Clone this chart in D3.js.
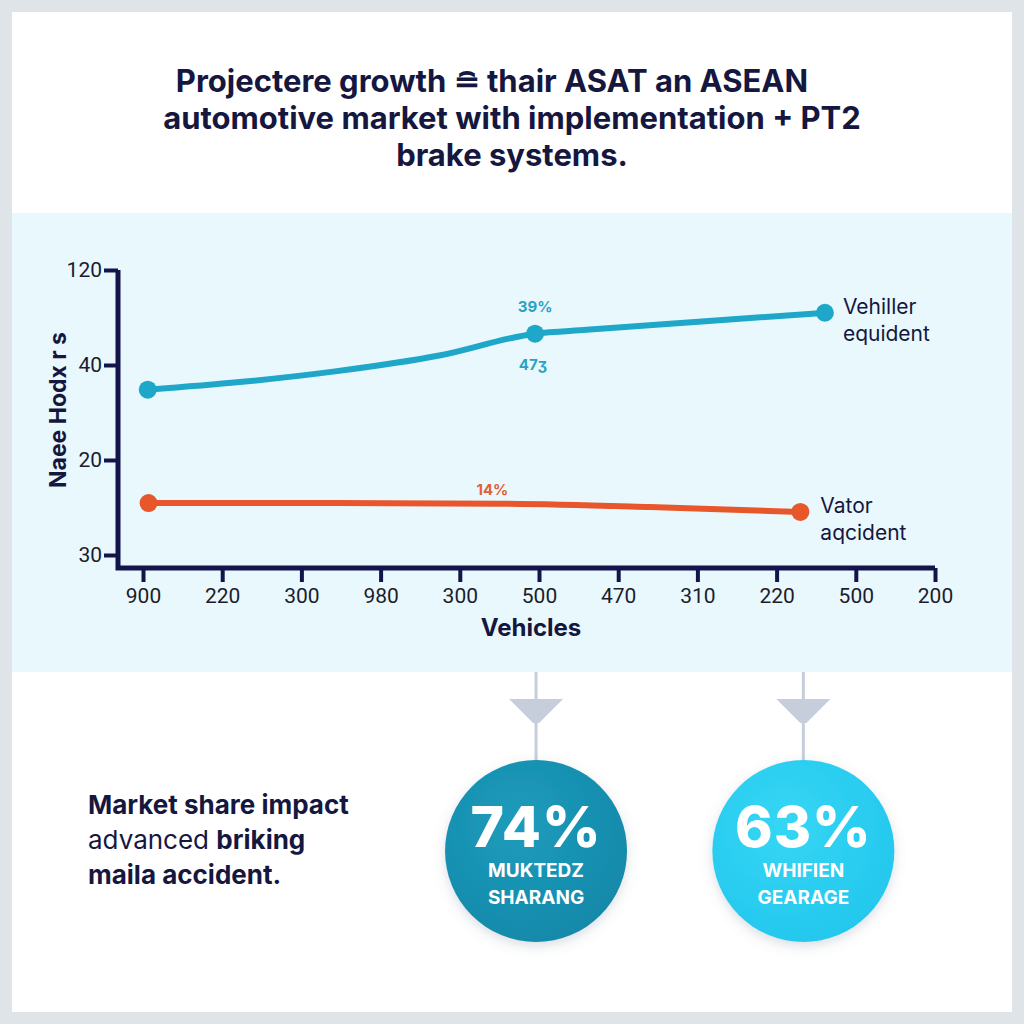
<!DOCTYPE html>
<html>
<head>
<meta charset="utf-8">
<title>ASEAN automotive market</title>
<script src="https://d3js.org/d3.v7.min.js"></script>
<style>
	body { margin: 0; background: #dfe4e9; }
	#chart { width: 1024px; height: 1024px; }
	text { font-family: Inter, Lato, "Noto Sans", sans-serif; fill: #15173f; }
	.tick-text { font-family: Roboto, "Liberation Sans", sans-serif; font-size: 21px; fill: #1c1c2c; }
	.title { font-size: 31px; font-weight: 700; }
</style>
</head>
<body>
<div id="chart"></div>
<script>
	// tick labels, as printed
	var yTickLabels = ["30", "20", "40", "120"];
	var xTickLabels = ["900", "220", "300", "980", "300", "500", "470", "310", "220", "500", "200"];

	// series, x in tick units, y in tick units
	var blueX = [0.06, 1.22, 2.4, 3.74, 4.95, 5.6, 7.1, 8.61];
	var blueY = [1.74, 1.82, 1.93, 2.1, 2.33, 2.37, 2.46, 2.55];
	var blueMarks = [0, 4, 7];

	var orangeX = [0.07, 2.4, 4.5, 6.4, 8.3];
	var orangeY = [0.547, 0.547, 0.54, 0.505, 0.453];
	var orangeMarks = [0, 4];

	var titleLines = ["Projectere growth \u2258 thair ASAT an ASEAN", "automotive market with implementation + PT2", "brake systems."];

	var bubbleValues = ["74%", "63%"];
	var bubbleLabels = [["MUKTEDZ", "SHARANG"], ["WHIFIEN", "GEARAGE"]];

	var W = 1024, H = 1024;
	var svg = d3.select("#chart").append("svg")
		.attr("width", W).attr("height", H);

	var defs = svg.append("defs");
	var grad = defs.append("radialGradient").attr("id", "g1").attr("cx", "40%").attr("cy", "35%").attr("r", "75%");
	grad.append("stop").attr("offset", "0%").attr("stop-color", "#1c9cbc");
	grad.append("stop").attr("offset", "100%").attr("stop-color", "#1587a8");
	var grad2 = defs.append("radialGradient").attr("id", "g2").attr("cx", "40%").attr("cy", "35%").attr("r", "75%");
	grad2.append("stop").attr("offset", "0%").attr("stop-color", "#35d6f5");
	grad2.append("stop").attr("offset", "100%").attr("stop-color", "#22c6ec");
	var shadow = defs.append("filter").attr("id", "sh").attr("x", "-30%").attr("y", "-30%").attr("width", "160%").attr("height", "160%");
	shadow.append("feDropShadow").attr("dx", 0).attr("dy", 4).attr("stdDeviation", 6).attr("flood-color", "#6a7a90").attr("flood-opacity", 0.25);

	// card + band
	svg.append("rect").attr("x", 12).attr("y", 12).attr("width", 1000).attr("height", 1000).attr("fill", "#ffffff");
	svg.append("rect").attr("x", 12).attr("y", 213).attr("width", 1000).attr("height", 459).attr("fill", "#e9f8fd");

	svg.append("g").selectAll("text")
		.data(titleLines)
		.enter().append("text")
		.attr("class", "title")
		.attr("x", function(d, i) { return i == 0 ? 492 : 512; })
		.attr("y", function(d, i) { return 92 + i * 37; })
		.attr("text-anchor", "middle")
		.text(function(d) { return d; });

	var x = d3.scaleLinear().domain([0, 10]).range([143, 935]);
	var y = d3.scaleLinear().domain([0, 3]).range([555, 270]);

	var axisColor = "#12144a";

	// y axis
	var yAxis = svg.append("g")
		.attr("transform", "translate(118,0)")
		.call(d3.axisLeft(y).tickValues([0, 1, 2, 3]).tickSize(14).tickPadding(2)
			.tickFormat(function(d) { return yTickLabels[d]; }));
	yAxis.select(".domain").remove();
	yAxis.selectAll(".tick line").attr("stroke", axisColor).attr("stroke-width", 4);
	yAxis.selectAll(".tick text").attr("class", "tick-text").attr("font-size", null).attr("font-family", null);

	// x axis
	var xAxis = svg.append("g")
		.attr("transform", "translate(0,568)")
		.call(d3.axisBottom(x).tickValues(d3.range(11)).tickSize(14).tickPadding(6)
			.tickFormat(function(d) { return xTickLabels[d]; }));
	xAxis.select(".domain").remove();
	xAxis.selectAll(".tick line").attr("stroke", axisColor).attr("stroke-width", 4);
	xAxis.selectAll(".tick text").attr("class", "tick-text").attr("font-size", null).attr("font-family", null);

	svg.append("path")
		.attr("d", d3.line()([[118, y.range()[1]], [118, 568], [x.range()[1], 568]]))
		.attr("fill", "none").attr("stroke", axisColor).attr("stroke-width", 5);

	svg.append("text")
		.attr("transform", "translate(66,410) rotate(-90)")
		.attr("text-anchor", "middle")
		.attr("font-size", 23).attr("font-weight", 700)
		.attr("font-family", "Liberation Sans, Arial, sans-serif")
		.text("Naee Hodx r s");

	svg.append("text")
		.attr("x", 531).attr("y", 636)
		.attr("text-anchor", "middle")
		.attr("font-size", 24).attr("font-weight", 700)
		.attr("font-family", "Liberation Sans, Arial, sans-serif")
		.text("Vehicles");

	var line = d3.line()
		.x(function(d) { return x(d[0]); })
		.y(function(d) { return y(d[1]); })
		.curve(d3.curveMonotoneX);

	function drawSeries(xs, ys, marks, color) {
		var pts = d3.zip(xs, ys);
		svg.append("path")
			.datum(pts)
			.attr("d", line)
			.attr("fill", "none")
			.attr("stroke", color)
			.attr("stroke-width", 6)
			.attr("stroke-linecap", "round");
		svg.append("g").selectAll("circle")
			.data(marks.map(function(i) { return pts[i]; }))
			.enter().append("circle")
			.attr("cx", function(d) { return x(d[0]); })
			.attr("cy", function(d) { return y(d[1]); })
			.attr("r", 9)
			.attr("fill", color);
		return pts;
	}

	var bluePts = drawSeries(blueX, blueY, blueMarks, "#1ea7c8");
	var orangePts = drawSeries(orangeX, orangeY, orangeMarks, "#e8572b");

	// point labels
	var mid = bluePts[4];
	svg.append("text").attr("x", x(mid[0])).attr("y", y(mid[1]) - 22)
		.attr("text-anchor", "middle").attr("font-size", 15).attr("font-weight", 700)
		.style("fill", "#2aa2c2").text("39%");
	svg.append("text").attr("x", x(mid[0]) - 2).attr("y", y(mid[1]) + 36)
		.attr("text-anchor", "middle").attr("font-size", 15).attr("font-weight", 700)
		.style("fill", "#2aa2c2").text("47\u0292");
	svg.append("text").attr("x", x(orangePts[2][0]) - 7).attr("y", y(orangePts[2][1]) - 9)
		.attr("text-anchor", "middle").attr("font-size", 15).attr("font-weight", 700)
		.style("fill", "#df6137").text("14%");

	// end labels
	function endLabel(p, lines, dx) {
		svg.append("g").selectAll("text")
			.data(lines)
			.enter().append("text")
			.attr("x", x(p[0]) + dx)
			.attr("y", function(d, i) { return y(p[1]) + 1 + i * 27; })
			.attr("font-size", 21)
			.text(function(d) { return d; });
	}
	endLabel(bluePts[7], ["Vehiller", "equident"], 18);
	endLabel(orangePts[4], ["Vator", "aqcident"], 20);

	// bottom bubbles
	var bubbleX = [x(bluePts[4][0]) + 1, x(orangePts[4][0]) + 3];
	bubbleX.forEach(function(cx, i) {
		var g = svg.append("g");
		g.append("line").attr("x1", cx).attr("x2", cx).attr("y1", 672).attr("y2", 762)
			.attr("stroke", "#c6cedb").attr("stroke-width", 3);
		g.append("path")
			.attr("d", d3.line()([[cx - 27, 699], [cx + 27, 699], [cx + 3, 723], [cx - 3, 723]]) + "Z")
			.attr("fill", "#c6cedb");
		g.append("circle").attr("cx", cx).attr("cy", 851).attr("r", 91)
			.attr("fill", i == 0 ? "url(#g1)" : "url(#g2)")
			.attr("filter", "url(#sh)");
		g.append("text").attr("x", cx).attr("y", 847)
			.attr("text-anchor", "middle").attr("font-size", 57).attr("font-weight", 800)
			.attr("letter-spacing", 1)
			.style("fill", "#ffffff").text(bubbleValues[i]);
		bubbleLabels[i].forEach(function(t, j) {
			g.append("text").attr("x", cx).attr("y", 877 + j * 27)
				.attr("text-anchor", "middle").attr("font-size", 19).attr("font-weight", 700)
				.attr("font-family", "Liberation Sans, Arial, sans-serif")
				.style("fill", "#ffffff").text(t);
		});
	});

	// side note
	var note = svg.append("text").attr("font-size", 26);
	note.append("tspan").attr("x", 88).attr("y", 814).attr("font-weight", 700).text("Market share impact");
	note.append("tspan").attr("x", 88).attr("y", 849).text("advanced ");
	note.append("tspan").attr("font-weight", 700).text("briking");
	note.append("tspan").attr("x", 88).attr("y", 884).attr("font-weight", 700).text("maila accident.");
</script>
</body>
</html>
